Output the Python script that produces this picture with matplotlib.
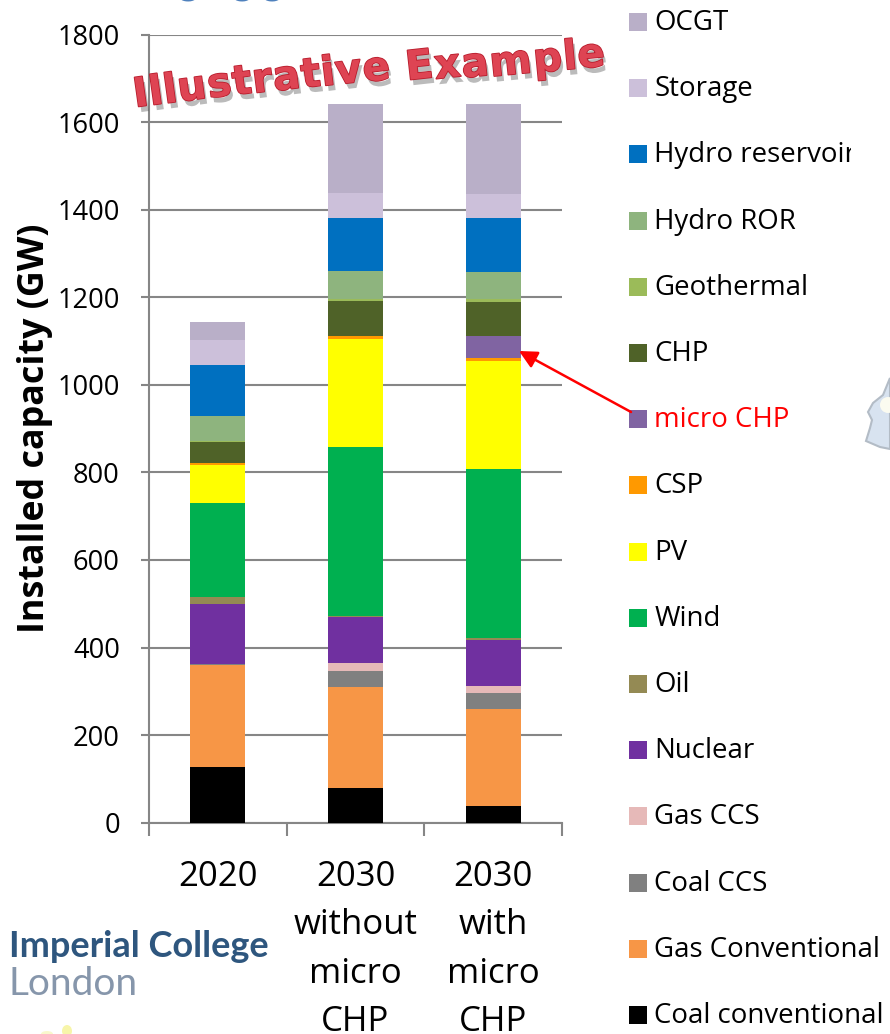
import matplotlib
matplotlib.use("Agg")
import matplotlib.pyplot as plt
import matplotlib.patheffects as pe
import numpy as np
from matplotlib.patches import Circle, Ellipse, Polygon, Rectangle
from matplotlib.transforms import Bbox

plt.rcParams["font.family"] = ["Open Sans", "DejaVu Sans"]

scenarios = ["2020", "2030\nwithout\nmicro\nCHP", "2030\nwith\nmicro\nCHP"]

# installed capacity in GW, stacked bottom to top
technologies = [
    "Coal conventional", "Gas Conventional", "Coal CCS", "Gas CCS", "Nuclear", "Oil",
    "Wind", "PV", "CSP", "micro CHP", "CHP", "Geothermal", "Hydro ROR",
    "Hydro reservoir", "Storage", "OCGT",
]
coal_conventional = [127, 80, 38]
gas_conventional = [234, 230, 221]
coal_ccs = [2, 37, 37]
gas_ccs = [0, 17, 17]
nuclear = [137, 105, 105]
oil = [15, 3, 3]
wind = [215, 387, 387]
pv = [87, 247, 247]
csp = [5, 7, 7]
micro_chp = [0, 0, 50]
chp = [48, 78, 78]
geothermal = [2, 6, 6]
hydro_ror = [58, 63, 63]
hydro_reservoir = [115, 122, 122]
storage = [57, 56, 56]
ocgt = [41, 205, 205]

series = [
    coal_conventional, gas_conventional, coal_ccs, gas_ccs, nuclear, oil, wind, pv,
    csp, micro_chp, chp, geothermal, hydro_ror, hydro_reservoir, storage, ocgt,
]
colors = [
    "#000000", "#f79646", "#808080", "#e6b9b8", "#7030a0", "#948a54", "#00b050", "#ffff00",
    "#ff9900", "#8064a2", "#4f6228", "#9bbb59", "#8eb47e", "#0070c0", "#ccc0da", "#b9afc8",
]
yticks = np.arange(0, 1801, 200)

GREY = "#868686"

fig = plt.figure(figsize=(8.9, 10.34), dpi=100)
W, H = 890, 1034
ax = fig.add_axes([149 / W, 1 - 822.5 / H, 413 / W, 787.5 / H])

bottom = np.zeros(len(scenarios))
xpos = np.arange(len(scenarios))
for values, color in zip(series, colors):
    ax.bar(xpos, values, width=0.4, bottom=bottom, color=color, linewidth=0, zorder=3)
    bottom += np.array(values)

ax.set_xlim(-0.5, 2.5)
ax.set_ylim(0, 1800)
ax.set_yticks(yticks)
ax.tick_params(axis="y", labelsize=19.6, length=6, width=1.5, color=GREY, pad=15)
ax.set_xticks(xpos)
ax.set_xticklabels(scenarios, fontsize=25, linespacing=1.55)
ax.set_xticks([-0.5, 0.5, 1.5, 2.5], minor=True)
ax.tick_params(axis="x", which="major", length=0, pad=27)
ax.tick_params(axis="x", which="minor", length=9, width=1.5, color=GREY)
ax.set_ylabel("Installed capacity (GW)", fontsize=25.8, fontweight="bold", labelpad=3)
ax.grid(axis="y", color=GREY, linewidth=1.5)
ax.set_axisbelow(True)
for side in ["top", "right"]:
    ax.spines[side].set_visible(False)
for side in ["left", "bottom"]:
    ax.spines[side].set_color(GREY)
    ax.spines[side].set_linewidth(1.5)

# overlay in pixel coordinates for the legend, banner and logos
over = fig.add_axes([0, 0, 1, 1], zorder=5)
over.set_xlim(0, W)
over.set_ylim(H, 0)
over.axis("off")

# slide heading cut off by the top edge, only the descenders remain
for x, ch in zip([189, 243, 273, 507], "gggy"):
    over.text(x, -6.5, ch, color="#4f81bd", fontsize=29, fontweight="bold", family="Lato",
              ha="center", va="baseline", clip_on=False)

# legend column, top entry first
clip = Bbox([[0, 0], [851, H]])
for i, (name, color) in enumerate(zip(technologies[::-1], colors[::-1])):
    yc = 22 + i * 66.2
    over.add_patch(Rectangle((629, yc - 9), 18, 18, facecolor=color, linewidth=0))
    t = over.text(654.5, yc + 1, name, fontsize=19.9, va="center", ha="left",
                  color="red" if name == "micro CHP" else "black")
    if name == "Hydro reservoir":
        t.set_clip_box(clip)
        t.set_clip_on(True)

over.annotate("", xy=(519, 351), xytext=(631, 412),
              arrowprops=dict(arrowstyle="-|>", color="red", lw=1.8, mutation_scale=27, shrinkA=0, shrinkB=0))

# banner laid out letter by letter along a rising curve
banner = "Illustrative Example"
banner_font = dict(fontsize=29, fontweight="bold", family="DejaVu Sans")
renderer = fig.canvas.get_renderer()
advance = []
for ch in banner:
    probe = over.text(0, 0, "n" + ch + "n", **banner_font)
    full = probe.get_window_extent(renderer).width
    probe.set_text("nn")
    advance.append(full - probe.get_window_extent(renderer).width)
    probe.remove()
advance = np.array(advance)
starts = 135 + np.concatenate([[0], np.cumsum(advance)[:-1]]) * 472 / advance.sum()
effects = [
    pe.SimplePatchShadow(offset=(2, -4), shadow_rgbFace="#555555", alpha=0.4),
    pe.Stroke(linewidth=1.2, foreground="#b81c2c"),
    pe.Normal(),
]
for x, ch in zip(starts, banner):
    base = np.interp(x, [135, 215, 310, 360, 500, 610], [107, 97, 87, 82, 76, 65])
    slope = np.interp(x, [135, 610], [8, 5])
    over.text(x, base, ch, color="#de4453", rotation=slope, rotation_mode="anchor",
              ha="left", va="baseline", path_effects=effects, **banner_font)

# college logo
over.text(9, 957, "Imperial College", color="#174470", fontsize=26, fontweight="bold", family="Lato",
          ha="left", va="baseline", alpha=0.9)
over.text(9, 995, "London", color="#8696ab", fontsize=28, family="Lato", ha="left", va="baseline")

# fragment of a map on the right edge and a pale logo at the bottom
over.add_patch(Polygon([(890, 378), (883, 395), (873, 403), (868, 412), (872, 420), (870, 428),
                        (866, 441), (880, 447), (890, 449)],
                       closed=True, facecolor="#d8e3f0", edgecolor="#b3bcc6", linewidth=1.5))
over.add_patch(Circle((888, 405), 8, facecolor="#fbfbf0", linewidth=0))
over.add_patch(Ellipse((67, 1031), 10, 12, facecolor="#f2ef70", linewidth=0, alpha=0.6))
over.add_patch(Ellipse((47, 1034), 12, 6, facecolor="#f5f29a", linewidth=0, alpha=0.5))

fig.savefig("out.png", dpi=100)
